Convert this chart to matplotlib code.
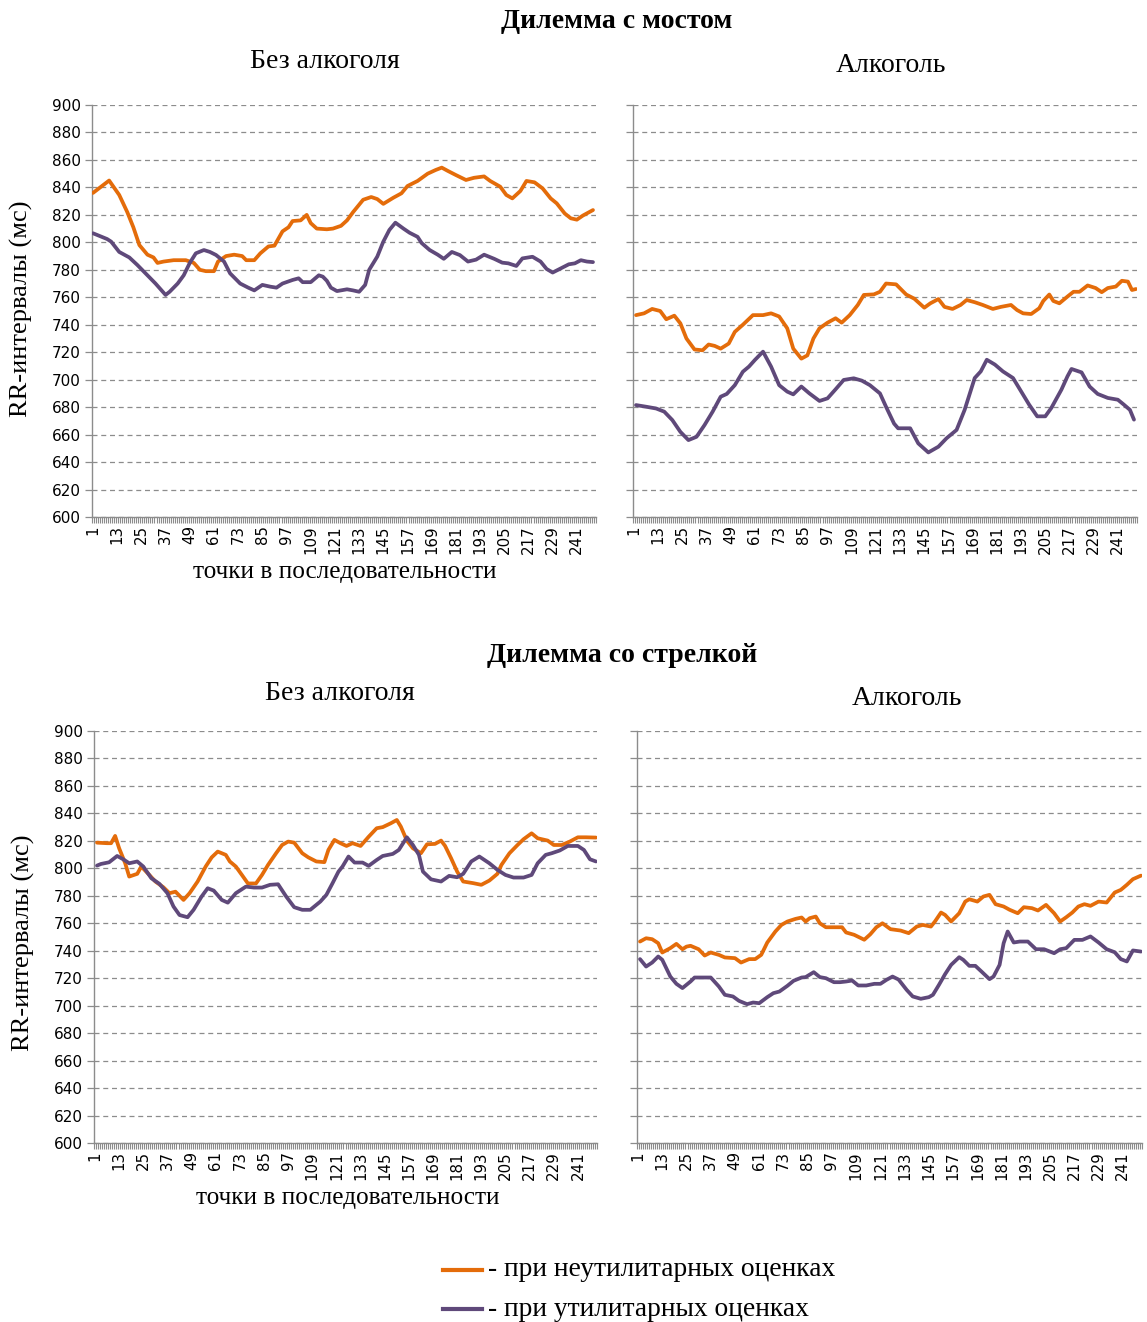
import matplotlib
matplotlib.use("Agg")
import matplotlib.pyplot as plt
from matplotlib.ticker import FixedLocator, NullFormatter
from matplotlib.lines import Line2D

# ---------------- data ----------------
n_points = 250
tick_labels = [str(v) for v in range(1, 242, 12)]

# Dilemma with the bridge, no alcohol
tl_neutil_x = [1, 9, 14, 18, 21, 24, 28, 31, 33, 36, 41, 47, 51, 54, 57, 61, 63, 67, 71, 75, 77, 81, 84, 88, 91, 95, 98, 100, 104, 107, 109, 112, 117, 120, 124, 127, 130, 135, 139, 142, 145, 150, 154, 157, 162, 167, 171, 174, 177, 181, 186, 190, 195, 198, 203, 206, 209, 213, 216, 220, 224, 228, 231, 235, 238, 241, 244, 249]
tl_neutil_y = [836, 845, 834.5, 822, 811, 798, 791, 789, 785, 786, 787, 787, 785, 780, 779, 779, 786, 790, 791, 790, 787, 787, 792, 797, 797.6, 808, 811, 815.5, 816, 820, 814, 810, 809.5, 810, 812, 816, 822, 831, 833, 831.5, 828, 832.5, 835.7, 841, 844.7, 850, 852.7, 854.4, 852, 849, 845.4, 847, 848, 844.7, 840.5, 834.5, 832, 837.4, 844.7, 843.7, 839.3, 832, 828.4, 821, 817.5, 816.5, 819.5, 823.5]
tl_util_x = [1, 8, 10, 14, 19, 23, 28, 32, 37, 39, 43, 46, 49, 52, 56, 59, 62, 66, 69, 74, 78, 81, 85, 89, 92, 95, 100, 103, 105, 109, 113, 115, 117, 119, 122, 127, 130, 133, 136, 138, 142, 145, 148, 151, 155, 158, 162, 164, 168, 172, 175, 179, 183, 187, 191, 195, 200, 204, 207, 211, 214, 219, 223, 226, 229, 233, 237, 240, 243, 246, 249]
tl_util_y = [806.6, 802.4, 800.5, 793, 789, 783.5, 776, 770, 761.7, 764, 770, 776, 785, 792, 794.4, 793, 790.8, 786, 777.4, 770, 767, 765, 769, 767.7, 767, 770, 772.6, 773.8, 771, 771, 776, 775, 772, 767, 764.5, 765.8, 765, 764, 769, 780, 789.6, 800.5, 809, 814.3, 810, 807, 804, 799.5, 794.4, 791, 788, 793, 790.7, 786, 787.4, 791, 788, 785.2, 784.7, 782.8, 788.3, 789.5, 786, 780.6, 778, 781, 784, 784.7, 787, 786, 785.6]

# Dilemma with the bridge, alcohol
tr_neutil_x = [2, 6, 10, 14, 17, 21, 24, 27, 31, 35, 38, 41, 44, 48, 51, 55, 60, 65, 69, 73, 77, 80, 84, 87, 90, 93, 97, 101, 104, 108, 112, 115, 120, 123, 126, 131, 136, 140, 145, 148, 152, 155, 159, 163, 166, 170, 174, 179, 183, 188, 191, 194, 198, 202, 204, 207, 209, 212, 216, 219, 222, 226, 230, 233, 236, 240, 243, 246, 248, 250]
tr_neutil_y = [747, 748.3, 751.5, 750, 744, 746.6, 741, 730, 722, 721.4, 725.6, 724.6, 722.6, 726.3, 734.8, 740, 747, 747, 748.3, 746, 737.4, 722.6, 715.3, 717.7, 730, 737.4, 741.5, 744.7, 741.5, 747, 754.4, 761.7, 762.1, 764, 770, 769.4, 762, 759, 752.4, 755.6, 758.7, 753, 751.5, 754.4, 758, 756.4, 754.4, 751.5, 753, 754.4, 750.7, 748.3, 747.8, 752, 757.3, 762, 757.3, 755.6, 760.5, 764, 764, 768.6, 766.7, 763.7, 766.7, 767.8, 772, 771.4, 765.3, 766]
tr_util_x = [2, 7, 12, 16, 20, 24, 28, 32, 36, 40, 44, 47, 51, 55, 58, 61, 65, 69, 73, 77, 80, 84, 88, 93, 97, 101, 105, 110, 114, 118, 123, 126, 130, 132, 138, 142, 147, 152, 156, 161, 165, 170, 173, 176, 180, 184, 189, 193, 197, 201, 205, 208, 213, 216, 218, 223, 227, 231, 236, 241, 244, 247, 249]
tr_util_y = [681.5, 680.3, 679, 676.7, 670.6, 662, 656, 658.4, 667, 676.7, 687.6, 689.6, 696, 705.8, 709.5, 714.4, 720.4, 709.5, 696, 691.3, 689.3, 695, 690, 684.5, 686.4, 693, 699.8, 701, 699.3, 696, 690, 680.3, 668, 664.6, 664.6, 653.6, 647, 651.2, 657.3, 663.4, 678, 701.2, 706, 714.5, 711, 706, 701.2, 691.5, 681.8, 673.3, 673.3, 679.4, 692.7, 702.4, 707.8, 705.3, 695, 689.6, 686.7, 685.4, 681.8, 678, 670.9]

# Dilemma with the arrow, no alcohol
bl_neutil_x = [2, 7, 9, 11, 13, 16, 18, 22, 24, 28, 31, 35, 38, 41, 45, 48, 52, 56, 59, 62, 66, 68, 71, 74, 77, 81, 84, 87, 91, 94, 97, 100, 104, 107, 111, 115, 117, 120, 123, 126, 129, 133, 137, 141, 144, 148, 151, 153, 156, 159, 163, 166, 170, 173, 175, 178, 181, 184, 189, 193, 197, 201, 203, 207, 211, 214, 218, 221, 226, 229, 233, 237, 241, 245, 250]
bl_neutil_y = [818.7, 818.3, 818.3, 823.6, 814.6, 803.7, 794, 796, 801.3, 795.2, 790.4, 786.2, 781.9, 783, 777, 781.9, 790.4, 801.3, 808, 812.2, 809.8, 805, 801.3, 795.2, 789, 789, 795.2, 802.5, 811, 817, 819.5, 818.7, 811, 808, 805, 804.5, 813.4, 820.7, 818.3, 816.3, 818.3, 816.3, 823, 829.2, 830, 832.8, 835.2, 830.4, 820.2, 814.6, 811, 817.5, 817.8, 820.2, 816.3, 807.3, 797.6, 790.4, 789.2, 788, 791.1, 796, 802.5, 811, 817, 821.2, 825.5, 821.9, 820.2, 817, 817, 819.5, 822.6, 822.6, 822.4]
bl_util_x = [2, 4, 8, 12, 15, 18, 22, 25, 29, 33, 37, 40, 43, 47, 50, 54, 57, 60, 64, 67, 71, 76, 80, 84, 88, 92, 96, 100, 104, 108, 111, 113, 116, 119, 122, 124, 127, 130, 134, 137, 141, 144, 149, 152, 156, 159, 162, 164, 168, 173, 177, 181, 184, 188, 192, 197, 201, 205, 209, 214, 218, 221, 225, 228, 232, 236, 241, 244, 247, 250]
bl_util_y = [802, 803.2, 804.4, 809, 806.6, 803.7, 805, 801.3, 792.8, 788.7, 781.9, 772.2, 766, 764.4, 769.8, 779.5, 785.5, 783.8, 777, 775, 781.9, 786.7, 786, 786, 788, 788.4, 779.5, 771.7, 769.8, 769.8, 773.4, 775.8, 780.7, 789, 797.6, 801.3, 808.6, 804.2, 804.2, 801.8, 806.1, 809, 810.5, 813.4, 822.6, 817, 809.8, 797.6, 792, 790.4, 794.5, 793.5, 796, 805, 808.6, 803.7, 798.9, 795.2, 793.3, 793.3, 795.2, 803.7, 809.8, 811, 813, 816.3, 816.3, 813.4, 806.6, 805]

# Dilemma with the arrow, alcohol
br_neutil_x = [2, 5, 8, 11, 13, 17, 20, 23, 25, 27, 31, 34, 37, 41, 44, 49, 52, 56, 59, 62, 65, 69, 72, 75, 79, 82, 84, 86, 89, 91, 94, 99, 102, 104, 108, 113, 116, 119, 122, 126, 131, 135, 139, 142, 146, 148, 151, 153, 156, 160, 163, 165, 169, 172, 175, 178, 182, 185, 189, 192, 196, 199, 203, 207, 210, 213, 216, 219, 222, 225, 229, 233, 237, 240, 243, 246, 250]
br_neutil_y = [746.7, 749.1, 748.4, 745.5, 738.7, 741.9, 745, 741.1, 743, 743.6, 741.1, 736.5, 738.7, 737, 735.1, 734.6, 731.4, 733.9, 733.9, 737, 746, 754, 758.8, 761.3, 763.2, 764.2, 761.3, 763.7, 764.9, 760, 757.1, 757.1, 757.1, 753.3, 751.6, 748, 752, 757.1, 760, 755.7, 754.7, 752.8, 757.6, 758.8, 757.6, 761.3, 767.8, 766.1, 761.3, 767.3, 775.8, 777.5, 775.8, 779.5, 780.7, 773.9, 772.2, 769.8, 767.3, 771.7, 771, 769.3, 773.4, 767.3, 761.3, 764.4, 767.8, 772.2, 773.9, 772.7, 775.8, 775.1, 782.4, 784.3, 788, 792.1, 794.7]
br_util_x = [2, 5, 8, 11, 13, 17, 20, 23, 27, 29, 33, 37, 41, 44, 48, 51, 55, 58, 61, 65, 68, 71, 75, 78, 82, 84, 88, 91, 94, 98, 101, 104, 107, 110, 114, 118, 121, 124, 127, 130, 134, 137, 141, 145, 147, 150, 153, 156, 160, 162, 165, 168, 171, 175, 177, 180, 182, 184, 187, 190, 194, 198, 202, 207, 210, 213, 217, 221, 225, 229, 233, 237, 240, 243, 246, 250]
br_util_y = [733.9, 728.5, 731.4, 735.8, 733.4, 721.2, 715.9, 712.8, 717.6, 720.5, 720.5, 720.5, 714, 707.9, 706.7, 703.5, 701.1, 702.3, 701.8, 706.2, 709.1, 710.3, 714.5, 718.1, 720.5, 720.8, 724.4, 720.8, 720, 717.1, 717.1, 717.6, 718.3, 714.7, 714.7, 715.9, 715.9, 718.8, 721.2, 719, 711.5, 706.7, 705, 706.2, 707.9, 715.2, 722.9, 729.7, 735.3, 733.4, 729, 729, 724.9, 719.3, 721.2, 729.7, 745.5, 754, 746, 746.7, 746.7, 741.1, 741.1, 738.2, 741.1, 741.9, 747.9, 747.9, 750.4, 746, 741.1, 738.9, 733.9, 732.2, 740.2, 739.4]

dilemma_titles = ["Дилемма с мостом", "Дилемма со стрелкой"]
condition_titles = ["Без алкоголя", "Алкоголь"]
y_label = "RR-интервалы (мс)"
x_label = "точки в последовательности"
legend_labels = ["- при неутилитарных оценках", "- при утилитарных оценках"]

# ---------------- style ----------------
ORANGE = "#E46C0A"
PURPLE = "#5F497A"
GRID = "#8C8C8C"
SERIF = ["Liberation Serif", "DejaVu Serif"]
W, H = 1147, 1322

plt.rcParams["font.family"] = ["DejaVu Sans"]
fig = plt.figure(figsize=(W / 100, H / 100), dpi=100)


def px_rect(x0, x1, ytop, ybot):
    return [x0 / W, 1 - ybot / H, (x1 - x0) / W, (ybot - ytop) / H]


panels = [
    (px_rect(92, 596, 105, 517), tl_neutil_x, tl_neutil_y, tl_util_x, tl_util_y, True),
    (px_rect(633, 1137, 105, 517), tr_neutil_x, tr_neutil_y, tr_util_x, tr_util_y, False),
    (px_rect(94, 597, 731, 1143), bl_neutil_x, bl_neutil_y, bl_util_x, bl_util_y, True),
    (px_rect(637, 1142, 731, 1143), br_neutil_x, br_neutil_y, br_util_x, br_util_y, False),
]

for rect, nx, ny, ux, uy, show_y in panels:
    ax = fig.add_axes(rect)
    ax.plot(nx, ny, color=ORANGE, lw=2.7, solid_joinstyle="round", solid_capstyle="round", zorder=3)
    ax.plot(ux, uy, color=PURPLE, lw=2.7, solid_joinstyle="round", solid_capstyle="round", zorder=3)
    ax.set_xlim(0.5, n_points + 0.5)
    ax.set_ylim(600, 900)
    ax.set_yticks(range(600, 901, 20))
    ax.yaxis.grid(True, color=GRID, linestyle=(0, (4, 3)), linewidth=0.9)
    ax.set_axisbelow(True)
    for s in ("top", "right"):
        ax.spines[s].set_visible(False)
    for s in ("left", "bottom"):
        ax.spines[s].set_color(GRID)
        ax.spines[s].set_linewidth(1.0)
    ax.tick_params(axis="y", direction="out", length=5, color=GRID, width=0.9,
                   labelsize=11, pad=3, labelleft=show_y)
    ax.xaxis.set_major_locator(FixedLocator([int(t) for t in tick_labels]))
    ax.set_xticklabels(tick_labels, rotation=90)
    ax.xaxis.set_minor_locator(FixedLocator([i + 0.5 for i in range(0, n_points + 1)]))
    ax.xaxis.set_minor_formatter(NullFormatter())
    ax.tick_params(axis="x", which="major", length=0, labelsize=10.8, pad=6)
    ax.tick_params(axis="x", which="minor", direction="out", length=4, color=GRID, width=0.8)

# titles and labels
def ftext(x, y, s, **kw):
    fig.text(x / W, 1 - y / H, s, ha="center", va="center", family=SERIF, **kw)

ftext(617, 22, dilemma_titles[0], fontsize=20, fontweight="bold")
ftext(325, 62, condition_titles[0], fontsize=20)
ftext(891, 66, condition_titles[1], fontsize=20)
ftext(622, 656, dilemma_titles[1], fontsize=20, fontweight="bold")
ftext(340, 694, condition_titles[0], fontsize=20)
ftext(907, 699, condition_titles[1], fontsize=20)
ftext(21, 309, y_label, fontsize=19, rotation=90)
ftext(23, 943, y_label, fontsize=19, rotation=90)
ftext(345, 572, x_label, fontsize=18.2)
ftext(348, 1198, x_label, fontsize=18.2)

# legend
for (yy, col, lab) in [(1270, ORANGE, legend_labels[0]), (1309, PURPLE, legend_labels[1])]:
    fig.add_artist(Line2D([443 / W, 482 / W], [1 - yy / H, 1 - yy / H], color=col, lw=3.0,
                          transform=fig.transFigure))
    fig.text(488 / W, 1 - yy / H, lab, ha="left", va="center", family=SERIF, fontsize=19.8)

fig.savefig("out.png", dpi=100)
